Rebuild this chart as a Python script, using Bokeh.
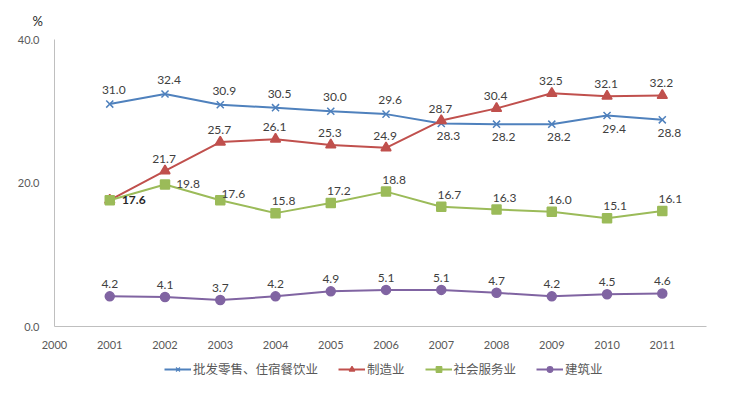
from bokeh.plotting import figure
from bokeh.models import (ColumnDataSource, Legend, LegendItem, FixedTicker,
                          NumeralTickFormatter, Range1d)
from bokeh.layouts import column
from bokeh.core.properties import value
from bokeh.embed import file_html
from bokeh.resources import INLINE

years = [2001, 2002, 2003, 2004, 2005, 2006, 2007, 2008, 2009, 2010, 2011]
names = ["批发零售、住宿餐饮业", "制造业", "社会服务业", "建筑业"]
trade = [31.0, 32.4, 30.9, 30.5, 30.0, 29.6, 28.3, 28.2, 28.2, 29.4, 28.8]
manuf = [17.6, 21.7, 25.7, 26.1, 25.3, 24.9, 28.7, 30.4, 32.5, 32.1, 32.2]
service = [17.6, 19.8, 17.6, 15.8, 17.2, 18.8, 16.7, 16.3, 16.0, 15.1, 16.1]
constr = [4.2, 4.1, 3.7, 4.2, 4.9, 5.1, 5.1, 4.7, 4.2, 4.5, 4.6]
x_ticks = [2000, 2001, 2002, 2003, 2004, 2005, 2006, 2007, 2008, 2009, 2010, 2011]
y_ticks = [0, 20, 40]

colors = ["#4F81BD", "#C0504D", "#9BBB59", "#8064A2"]
markers = ["x", "triangle", "square", "circle"]
msizes = [10, 10, 9, 9]
series = [trade, manuf, service, constr]

# label offsets in screen px (dx, dy with +dy downward); None = no label
def offsets(k):
    out = []
    for i in range(len(years)):
        if k == 0:
            out.append((4, -14) if i < 6 else (7, 13))
        elif k == 1:
            out.append(None if i == 0 else (-1, -12))
        elif k == 2:
            if i == 0:
                out.append((24, 0))
            elif i == 1:
                out.append((23, 0))
            elif i == 2:
                out.append((13, -6))
            else:
                out.append((8, -12))
        else:
            out.append((0, -12))
    return out

p = figure(width=736, height=352, output_backend="svg", toolbar_location=None,
           x_range=Range1d(2000, 2011.8), y_range=Range1d(0, 40),
           min_border_left=54, min_border_right=30, min_border_top=38,
           min_border_bottom=26)
p.outline_line_color = None
p.xgrid.visible = False
p.ygrid.visible = False

p.title.text = "%"
p.title.align = "left"
p.title.offset = -22
p.title.text_font = "Lato"
p.title.text_font_size = "13px"
p.title.text_font_style = "normal"
p.title.text_color = "#262626"
p.title.standoff = 21

for ax in (p.xaxis[0], p.yaxis[0]):
    ax.axis_line_color = "#BFBFBF"
    ax.axis_line_width = 1
    ax.major_tick_line_color = None
    ax.minor_tick_line_color = None
    ax.major_label_text_font = "Lato"
    ax.major_label_text_font_size = "11px"
    ax.major_label_text_color = "#595959"

p.xaxis.ticker = FixedTicker(ticks=x_ticks)
p.xaxis.major_label_standoff = 8
p.yaxis.ticker = FixedTicker(ticks=y_ticks)
p.yaxis.formatter = NumeralTickFormatter(format="0.0")
p.yaxis.major_label_standoff = 9

for k in range(4):
    src = ColumnDataSource(dict(x=years, y=series[k]))
    p.line("x", "y", source=src, line_color=colors[k], line_width=2)
    p.scatter("x", "y", source=src, marker=markers[k], size=msizes[k],
              fill_color=colors[k], line_color=colors[k], line_width=1.5)

for k in [2, 1, 0, 3]:
    off = offsets(k)
    idx = [i for i in range(len(years)) if off[i] is not None]
    src = ColumnDataSource(dict(
        x=[years[i] for i in idx], y=[series[k][i] for i in idx],
        t=["%.1f" % series[k][i] for i in idx],
        dx=[off[i][0] for i in idx], dy=[off[i][1] for i in idx],
        fs=["bold" if (k == 2 and i == 0) else "normal" for i in idx],
        c=["#262626" if (k == 2 and i == 0) else "#404040" for i in idx]))
    p.text("x", "y", text="t", source=src, x_offset="dx", y_offset="dy",
           text_align="center", text_baseline="middle",
           text_font=value("Lato"), text_font_size="12px",
           text_color="c", text_font_style="fs")

# legend strip below the chart
lg = figure(width=736, height=34, output_backend="svg", toolbar_location=None,
            x_axis_type=None, y_axis_type=None,
            x_range=Range1d(0, 1), y_range=Range1d(0, 1),
            min_border_left=54, min_border_right=30, min_border_top=0,
            min_border_bottom=0)
lg.outline_line_color = None
lg.xgrid.visible = False
lg.ygrid.visible = False
items = []
for k in range(4):
    src = ColumnDataSource(dict(x=years, y=series[k]))
    lr = lg.line("x", "y", source=src, line_color=colors[k], line_width=2)
    sr = lg.scatter("x", "y", source=src, marker=markers[k], size=7,
                    fill_color=colors[k], line_color=colors[k], line_width=1.2)
    items.append(LegendItem(label=names[k], renderers=[lr, sr]))
legend = Legend(items=items, orientation="horizontal", location=(110, 8),
                label_text_font="Noto Sans CJK SC", label_text_font_size="12.5px",
                label_text_color="#595959", glyph_width=27, glyph_height=14,
                label_standoff=2, spacing=20, padding=0, margin=0,
                border_line_color=None, background_fill_alpha=0)
lg.add_layout(legend)

open("out.html", "w").write(file_html(column(p, lg, spacing=0), INLINE))
